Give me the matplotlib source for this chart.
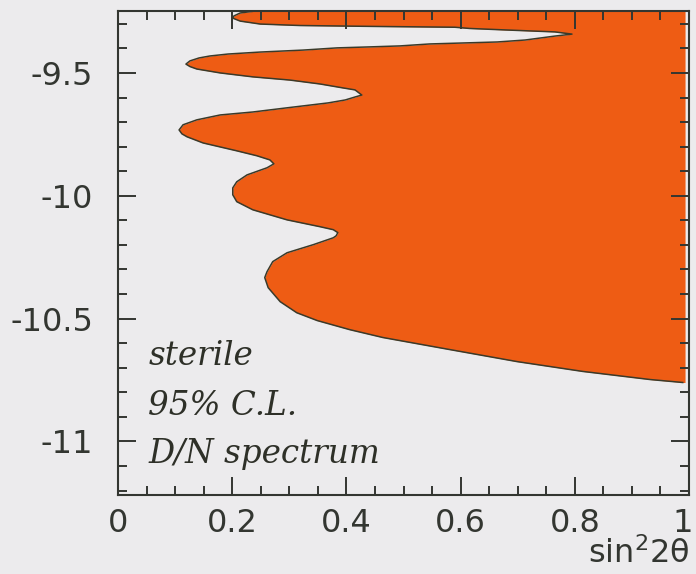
import matplotlib.pyplot as plt
import matplotlib.transforms as mtransforms
import numpy as np

# boundary of the allowed region (log10 dm^2 vs sin^2 2theta)
bound_y = [-9.248, -9.256, -9.268, -9.277, -9.289, -9.301, -9.307, -9.311, -9.314, -9.319,
           -9.325, -9.333, -9.342, -9.350, -9.366, -9.374, -9.382, -9.390, -9.394, -9.398,
           -9.407, -9.415, -9.423, -9.431, -9.439, -9.451, -9.464, -9.474, -9.484, -9.500,
           -9.516, -9.529, -9.545, -9.561, -9.569, -9.590, -9.598, -9.610, -9.622, -9.642,
           -9.659, -9.671, -9.691, -9.711, -9.732, -9.748, -9.760, -9.785, -9.817, -9.837,
           -9.854, -9.870, -9.886, -9.915, -9.943, -9.968, -9.996, -10.024, -10.057, -10.098,
           -10.126, -10.138, -10.150, -10.163, -10.171, -10.199, -10.232, -10.268, -10.309,
           -10.333, -10.374, -10.431, -10.476, -10.508, -10.545, -10.577, -10.626, -10.675,
           -10.715, -10.748, -10.760]
bound_x = [0.240, 0.214, 0.203, 0.201, 0.214, 0.249, 0.319, 0.459, 0.590, 0.616,
           0.678, 0.765, 0.795, 0.765, 0.713, 0.664, 0.546, 0.494, 0.441, 0.384,
           0.324, 0.249, 0.193, 0.161, 0.142, 0.126, 0.119, 0.126, 0.138, 0.179,
           0.236, 0.301, 0.354, 0.394, 0.415, 0.427, 0.415, 0.398, 0.368, 0.296,
           0.236, 0.179, 0.138, 0.114, 0.107, 0.112, 0.121, 0.149, 0.208, 0.243,
           0.266, 0.273, 0.261, 0.226, 0.208, 0.201, 0.201, 0.208, 0.236, 0.296,
           0.354, 0.377, 0.385, 0.382, 0.377, 0.342, 0.296, 0.271, 0.261,
           0.257, 0.263, 0.284, 0.313, 0.349, 0.406, 0.464, 0.581, 0.699,
           0.814, 0.932, 0.989]
x_edge = 0.993

xticks = [0, 0.2, 0.4, 0.6, 0.8, 1]
xticklabels = ['0', '0.2', '0.4', '0.6', '0.8', '1']
yticks = [-11, -10.5, -10, -9.5]
yticklabels = ['-11', '-10.5', '-10', '-9.5']
notes = ['sterile', '95% C.L.', 'D/N spectrum']

bg = '#ecebed'
ink = '#333631'

plt.rcParams['font.family'] = ['DejaVu Sans']

fig = plt.figure(figsize=(6.96, 5.74), dpi=100, facecolor=bg)
ax = fig.add_axes([0.1695, 0.1376, 0.8205, 0.8432], facecolor=bg)

ax.fill_betweenx(bound_y, bound_x, x_edge, color='#ee5c14', lw=0)
ax.plot(bound_x, bound_y, color='#3a3a2a', lw=1.1)

ax.set_xlim(0, 1)
ax.set_ylim(-11.218, -9.248)
ax.set_xticks(xticks)
ax.set_xticklabels(xticklabels)
ax.set_yticks(yticks)
ax.set_yticklabels(yticklabels)
ax.set_xticks(np.arange(0, 1.001, 0.05), minor=True)
ax.set_yticks(np.arange(-11.2, -9.24, 0.1), minor=True)
ax.tick_params(which='both', direction='in', top=True, right=True, color=ink, width=1.4,
               labelsize=23, labelcolor=ink)
ax.tick_params(which='major', length=13)
ax.tick_params(which='minor', length=6.5)
ax.tick_params(axis='x', pad=9)
ax.tick_params(axis='y', pad=18)
for s in ax.spines.values():
    s.set_color(ink)
    s.set_linewidth(1.5)

# keep the last x label inside the canvas
last = ax.get_xticklabels()[-1]
last.set_transform(last.get_transform() +
                   mtransforms.ScaledTranslation(-6 / 100, 0, fig.dpi_scale_trans))

ax.text(1.0, -0.14, 'sin$^2$2\u03b8', transform=ax.transAxes, ha='right', va='baseline',
        fontsize=23, color=ink)

for t, yy in zip(notes, [0.2686, 0.165, 0.066]):
    ax.text(0.053, yy, t, transform=ax.transAxes, ha='left', va='baseline',
            fontsize=23.5, style='italic', family='DejaVu Serif', color='#2e3028')

fig.savefig('out.png', dpi=100, facecolor=bg)
